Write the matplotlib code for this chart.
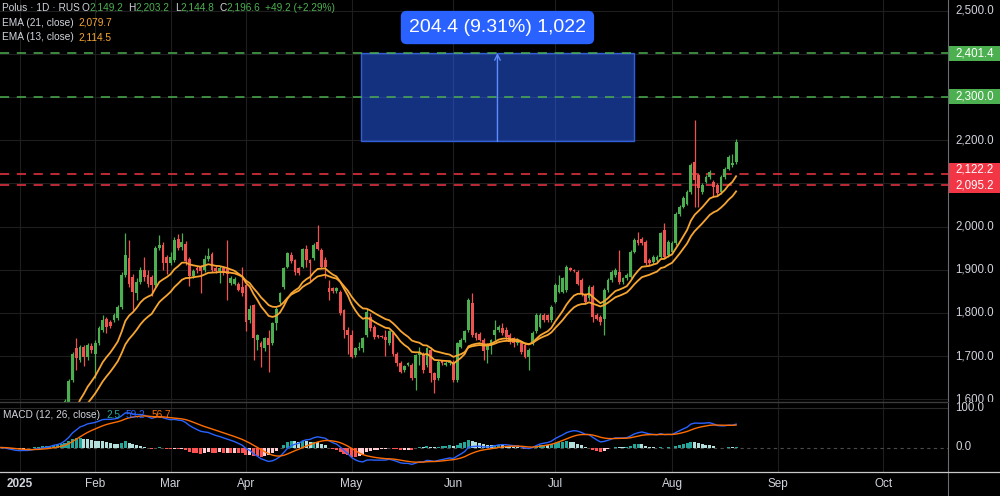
import numpy as np
import pandas as pd
import matplotlib
matplotlib.use('Agg')
import matplotlib.pyplot as plt
from matplotlib.patches import Rectangle
from matplotlib.transforms import blended_transform_factory

plt.rcParams['font.family'] = ['Liberation Sans', 'DejaVu Sans']

W, H = 1000, 496

# daily OHLC, one value per bar (first bars sit below the visible range)
opens = [1500, 1490, 1475, 1462, 1455, 1448, 1460, 1470, 1465, 1478,
         1492, 1485, 1500, 1496, 1512, 1528, 1522, 1562, 1594, 1645,
         1718, 1691, 1720, 1699, 1724, 1706, 1730, 1760, 1785, 1780,
         1783, 1788, 1814, 1888, 1926, 1884, 1845, 1872, 1899, 1888,
         1884, 1865, 1950, 1957, 1930, 1915, 1922, 1972, 1952, 1960,
         1925, 1886, 1905, 1906, 1900, 1925, 1936, 1905, 1898, 1903,
         1902, 1870, 1868, 1866, 1860, 1864, 1783, 1818, 1737, 1730,
         1718, 1741, 1730, 1776, 1826, 1860, 1907, 1934, 1922, 1903,
         1907, 1949, 1922, 1926, 1965, 1946, 1922, 1857, 1857, 1850,
         1849, 1807, 1760, 1749, 1703, 1718, 1718, 1749, 1791, 1768,
         1748, 1747, 1745, 1730, 1753, 1706, 1683, 1668, 1679, 1680,
         1649, 1703, 1706, 1680, 1714, 1660, 1650, 1688, 1680, 1683,
         1687, 1645, 1722, 1737, 1760, 1822, 1753, 1752, 1737, 1714,
         1726, 1749, 1760, 1764, 1760, 1749, 1741, 1730, 1730, 1726,
         1699, 1730, 1757, 1768, 1795, 1795, 1784, 1826, 1849, 1849,
         1853, 1903, 1900, 1895, 1876, 1841, 1834, 1861, 1795, 1791,
         1787, 1853, 1876, 1888, 1895, 1872, 1880, 1884, 1942, 1969,
         1972, 1965, 1922, 1918, 1922, 1930, 1992, 1934, 1940, 1961,
         2030, 2046, 2053, 2080, 2150, 2119, 2080, 2104, 2115, 2104,
         2096, 2080, 2115, 2134, 2142, 2149.2]
highs = [1506, 1495, 1480, 1468, 1460, 1466, 1476, 1474, 1484, 1498,
         1496, 1506, 1504, 1518, 1534, 1532, 1550, 1600, 1646, 1710,
         1743, 1726, 1726, 1730, 1730, 1737, 1770, 1795, 1790, 1784,
         1800, 1818, 1895, 1984, 1969, 1890, 1880, 1907, 1930, 1900,
         1888, 1955, 1980, 1965, 1935, 1940, 1976, 1983, 1986, 1966,
         1930, 1902, 1908, 1910, 1935, 1950, 1942, 1910, 1908, 1908,
         1969, 1885, 1882, 1872, 1907, 1868, 1818, 1820, 1752, 1735,
         1745, 1760, 1780, 1814, 1848, 1907, 1942, 1942, 1925, 1906,
         1950, 1957, 1925, 1961, 2003, 1950, 1930, 1876, 1860, 1860,
         1853, 1810, 1768, 1760, 1722, 1733, 1745, 1808, 1799, 1772,
         1750, 1749, 1760, 1760, 1757, 1710, 1688, 1680, 1686, 1683,
         1706, 1722, 1710, 1722, 1720, 1664, 1691, 1692, 1688, 1690,
         1690, 1733, 1741, 1760, 1834, 1845, 1756, 1755, 1741, 1730,
         1740, 1784, 1772, 1776, 1768, 1753, 1745, 1741, 1735, 1730,
         1718, 1757, 1799, 1799, 1799, 1798, 1818, 1870, 1888, 1884,
         1911, 1906, 1902, 1899, 1880, 1845, 1865, 1865, 1800, 1795,
         1858, 1880, 1899, 1903, 1945, 1884, 1892, 1946, 1973, 1988,
         1976, 1969, 1926, 1934, 1934, 1988, 2007, 1969, 1966, 2034,
         2050, 2070, 2084, 2146, 2246, 2123, 2100, 2120, 2131, 2108,
         2100, 2119, 2138, 2166, 2168, 2203.2]
lows = [1484, 1470, 1456, 1450, 1440, 1444, 1455, 1458, 1460, 1472,
        1480, 1480, 1490, 1492, 1508, 1515, 1518, 1555, 1590, 1640,
        1668, 1687, 1676, 1690, 1708, 1649, 1726, 1756, 1753, 1765,
        1778, 1784, 1810, 1884, 1860, 1807, 1830, 1868, 1875, 1860,
        1840, 1860, 1945, 1900, 1890, 1910, 1918, 1945, 1945, 1912,
        1862, 1880, 1893, 1845, 1895, 1920, 1895, 1893, 1870, 1888,
        1830, 1865, 1864, 1850, 1838, 1757, 1776, 1691, 1714, 1675,
        1712, 1664, 1725, 1760, 1820, 1855, 1903, 1915, 1888, 1888,
        1903, 1907, 1872, 1922, 1945, 1903, 1880, 1830, 1845, 1845,
        1795, 1741, 1706, 1695, 1699, 1714, 1710, 1745, 1758, 1740,
        1742, 1741, 1700, 1725, 1700, 1678, 1660, 1664, 1676, 1645,
        1622, 1680, 1662, 1675, 1640, 1614, 1645, 1679, 1676, 1679,
        1640, 1640, 1718, 1733, 1755, 1745, 1737, 1735, 1690, 1683,
        1706, 1737, 1756, 1749, 1738, 1728, 1722, 1726, 1706, 1695,
        1668, 1726, 1753, 1764, 1780, 1780, 1780, 1822, 1845, 1845,
        1849, 1896, 1895, 1864, 1840, 1820, 1830, 1780, 1783, 1772,
        1749, 1849, 1872, 1884, 1868, 1868, 1876, 1880, 1938, 1957,
        1957, 1911, 1911, 1914, 1918, 1926, 1926, 1930, 1936, 1957,
        2025, 2042, 2050, 2076, 2046, 2046, 2076, 2100, 2111, 2069,
        2073, 2076, 2111, 2130, 2138, 2144.8]
closes = [1490, 1475, 1462, 1455, 1448, 1460, 1470, 1465, 1478, 1492,
          1485, 1500, 1496, 1512, 1528, 1522, 1545, 1597, 1643, 1705,
          1695, 1720, 1697, 1726, 1713, 1730, 1764, 1784, 1768, 1770,
          1795, 1814, 1888, 1934, 1868, 1849, 1872, 1899, 1884, 1868,
          1865, 1950, 1957, 1915, 1915, 1930, 1969, 1950, 1965, 1920,
          1886, 1897, 1899, 1897, 1925, 1932, 1899, 1898, 1905, 1893,
          1890, 1880, 1878, 1853, 1845, 1780, 1810, 1741, 1749, 1722,
          1741, 1726, 1776, 1808, 1845, 1903, 1938, 1919, 1895, 1892,
          1947, 1922, 1915, 1957, 1949, 1907, 1907, 1849, 1850, 1857,
          1799, 1760, 1749, 1699, 1718, 1722, 1741, 1803, 1764, 1745,
          1745, 1744, 1738, 1757, 1706, 1683, 1664, 1678, 1683, 1649,
          1703, 1710, 1668, 1718, 1660, 1645, 1687, 1683, 1685, 1687,
          1645, 1730, 1737, 1757, 1830, 1749, 1741, 1738, 1711, 1726,
          1738, 1760, 1768, 1753, 1745, 1733, 1730, 1737, 1710, 1699,
          1714, 1753, 1795, 1795, 1784, 1784, 1814, 1865, 1865, 1880,
          1907, 1899, 1898, 1868, 1845, 1826, 1861, 1791, 1787, 1780,
          1853, 1876, 1895, 1899, 1872, 1880, 1888, 1942, 1969, 1961,
          1961, 1915, 1915, 1930, 1930, 1984, 1930, 1965, 1962, 2030,
          2046, 2065, 2080, 2142, 2108, 2088, 2096, 2115, 2127, 2092,
          2077, 2115, 2134, 2162, 2147.4, 2196.6]

month_labels = ['2025', 'Feb', 'Mar', 'Apr', 'May', 'Jun', 'Jul', 'Aug', 'Sep', 'Oct']
month_bars = [5, 25, 45, 65, 93, 120, 147, 178, 206, 234]

price_grid = [1600, 1700, 1800, 1900, 2000, 2100, 2200, 2300, 2400, 2500]
price_labels = [2500, 2200, 2000, 1900, 1800, 1700, 1600]
target_levels = [2401.4, 2300.0]
stop_levels = [2122.2, 2095.2]

measure_bars = [95.5, 167.9]
measure_prices = [2197.0, 2401.4]
measure_text = '204.4 (9.31%) 1,022'

UP, DOWN = '#4caf50', '#ef5350'
EMA_COL = '#f7a531'
TXT = '#d1d4dc'
GRID = '#1e1e1e'

o = np.array(opens); h = np.array(highs); l = np.array(lows); c = np.array(closes)
x = np.arange(len(c))
s = pd.Series(c)
ema21 = s.ewm(span=21, adjust=False).mean()
ema13 = s.ewm(span=13, adjust=False).mean()
macd = s.ewm(span=12, adjust=False).mean() - s.ewm(span=26, adjust=False).mean()
signal = macd.ewm(span=9, adjust=False).mean()
hist = macd - signal

fig = plt.figure(figsize=(W / 100, H / 100), dpi=100, facecolor='black')

def fy(px):
    return 1 - px / H

ax = fig.add_axes([0, fy(402), 0.948, 402 / H])
axm = fig.add_axes([0, fy(471.5), 0.948, 69.5 / H])
axr = fig.add_axes([0.948, fy(402), 0.052, 402 / H])
axmr = fig.add_axes([0.948, fy(471.5), 0.052, 69.5 / H])
for a in (ax, axm, axr, axmr):
    a.set_facecolor('black')
    a.axis('off')

xlim = (-0.24, 251.2)
ylim = (2500 - 391.5 / 0.432, 2500 + 10.5 / 0.432)
mlim = (-24 / 0.392, 45.5 / 0.392)
ax.set_xlim(xlim); ax.set_ylim(ylim)
axm.set_xlim(xlim); axm.set_ylim(mlim)
axr.set_xlim(0, 1); axr.set_ylim(ylim)
axmr.set_xlim(0, 1); axmr.set_ylim(mlim)

# grid
for p in price_grid:
    ax.axhline(p, color=GRID, lw=0.8, zorder=0)
for b in month_bars:
    ax.axvline(b, color=GRID, lw=0.8, zorder=0)
    axm.axvline(b, color=GRID, lw=0.8, zorder=0)
axm.axhline(100, color='#2a2a2a', lw=0.8, zorder=0)
axm.axhline(0, color='#4a4a4a', lw=0.8, ls=(0, (3, 3)), zorder=0)

# measure box
ax.add_patch(Rectangle((measure_bars[0], measure_prices[0]), measure_bars[1] - measure_bars[0],
                       measure_prices[1] - measure_prices[0], facecolor='#2962ff', alpha=0.5,
                       edgecolor='none', zorder=1))
ax.add_patch(Rectangle((measure_bars[0], measure_prices[0]), measure_bars[1] - measure_bars[0],
                       measure_prices[1] - measure_prices[0], facecolor='none',
                       edgecolor='#2f5fd6', lw=1, zorder=2))
mid = (measure_bars[0] + measure_bars[1]) / 2
ax.annotate('', xy=(mid, measure_prices[1]), xytext=(mid, measure_prices[0]),
            arrowprops=dict(arrowstyle='->', color='#5d8cff', lw=1, shrinkA=0, shrinkB=0), zorder=2)
ax.text(mid, 2460.6, measure_text, ha='center', va='center', fontsize=14, color='white', zorder=6,
        bbox=dict(boxstyle='round,pad=0.42,rounding_size=0.3', fc='#2962ff', ec='none'))

# horizontal levels
for p in target_levels:
    ax.axhline(p, color='#4caf50', lw=1.1, ls=(0, (6, 5)), zorder=2)
for p in stop_levels:
    ax.axhline(p, color='#f23645', lw=1.1, ls=(0, (6, 5)), zorder=2)

# candles
cols = np.where(c >= o, UP, DOWN)
ax.vlines(x, l, h, colors=cols, lw=0.9, zorder=3)
ax.bar(x, np.maximum(np.abs(c - o), 1.2), bottom=np.minimum(o, c), width=0.74,
       color=cols, lw=0, zorder=4)
ax.plot(x, ema21, color=EMA_COL, lw=1.3, zorder=5)
ax.plot(x, ema13, color=EMA_COL, lw=1.3, zorder=5)

# macd pane
prev = hist.shift(1).fillna(0)
hcols = np.where(hist >= 0, np.where(hist >= prev, '#26a69a', '#b2dfdb'),
                 np.where(hist < prev, '#ff5252', '#ffcdd2'))
axm.bar(x, hist, width=0.8, color=hcols, lw=0, zorder=2)
axm.plot(x, macd, color='#2962ff', lw=1, zorder=3)
axm.plot(x, signal, color='#ff6d00', lw=1, zorder=3)

# price scale
for p in price_labels:
    axr.text(0.14, p, f'{p:,.1f}', color=TXT, fontsize=8.3, va='center', ha='left', clip_on=True)
for p in target_levels:
    axr.add_patch(Rectangle((0.02, p - 17.5), 0.98, 35, color='#4caf50', lw=0))
    axr.text(0.14, p, f'{p:,.1f}', color='white', fontsize=8.3, va='center', ha='left')
axr.add_patch(Rectangle((0.02, 2077.5), 0.98, 69.5, color='#f23645', lw=0))
axr.text(0.14, stop_levels[0] + 9, f'{stop_levels[0]:,.1f}', color='white', fontsize=8.3, va='center', ha='left')
axr.text(0.14, stop_levels[1], f'{stop_levels[1]:,.1f}', color='white', fontsize=8.3, va='center', ha='left')
axmr.text(0.14, 100, '100.0', color=TXT, fontsize=8.3, va='center', ha='left')
axmr.text(0.14, 0, '0.0', color=TXT, fontsize=8.3, va='center', ha='left')

# frame lines
fig.add_artist(plt.Line2D([0.948, 0.948], [0, 1], color='#6a6d75', lw=0.8))
fig.add_artist(plt.Line2D([0, 0.948], [fy(402), fy(402)], color='#3c3c3c', lw=1))
fig.add_artist(plt.Line2D([0, 1], [fy(471.5), fy(471.5)], color='#c8c8c8', lw=0.9))

# time axis
tr = blended_transform_factory(axm.transData, fig.transFigure)
for lab, b in zip(month_labels, month_bars):
    axm.text(b, fy(484), lab, transform=tr, color=TXT, fontsize=8.5, ha='center', va='center',
             fontweight='bold' if lab == '2025' else 'normal', clip_on=False)

# legends
def text_row(parts, x0, y0, size=7.3):
    r = fig.canvas.get_renderer()
    for txt, col, gap in parts:
        t = fig.text(x0 / W, fy(y0), txt, color=col, fontsize=size, va='baseline', ha='left')
        x0 = t.get_window_extent(r).x1 + gap

G = '#4caf50'
text_row([('Polus · 1D · RUS', TXT, 2), ('O', TXT, 0), ('2,149.2', G, 5), ('H', TXT, 0), ('2,203.2', G, 5),
          ('L', TXT, 0), ('2,144.8', G, 5), ('C', TXT, 0), ('2,196.6', G, 5), ('+49.2 (+2.29%)', G, 0)], 2, 11)
text_row([('EMA (21, close)', TXT, 5), ('2,079.7', EMA_COL, 0)], 2, 25.5)
text_row([('EMA (13, close)', TXT, 5), ('2,114.5', EMA_COL, 0)], 2, 40)
text_row([('MACD (12, 26, close)', TXT, 6), ('2.5', '#26a69a', 6), ('59.2', '#2962ff', 6),
          ('56.7', '#ff6d00', 0)], 3, 418)

fig.savefig('out.png', dpi=100, facecolor='black')
